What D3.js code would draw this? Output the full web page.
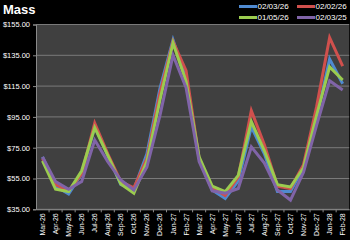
<!DOCTYPE html>
<html><head><meta charset="utf-8">
<script src="https://cdn.jsdelivr.net/npm/d3@7"></script>
<style>
html,body{margin:0;padding:0;background:#000;}
svg{display:block;}
text{font-family:"Liberation Sans",Arial,sans-serif;}
</style></head>
<body>
<svg id="c" width="350" height="240"></svg>
<script>
const months = ["Mar-26","Apr-26","May-26","Jun-26","Jul-26","Aug-26","Sep-26","Oct-26","Nov-26","Dec-26","Jan-27","Feb-27","Mar-27","Apr-27","May-27","Jun-27","Jul-27","Aug-27","Sep-27","Oct-27","Nov-27","Dec-27","Jan-28","Feb-28"];
const seriesNames = ["02/03/26","02/02/26","01/05/26","02/03/25"];
const s020326 = [69,50,45,58,88.5,70,51,48,71,113.5,145,120,68,47.5,42,53.5,88.5,71,46.5,46.5,62,94,132.5,116.5];
const s020226 = [68,51,47,58,91,71,53,49,68,110.5,144,125,68,49,44,56,99,77,50,48.5,64,101.5,146.5,128];
const s010526 = [66.5,48,46.5,60,88,70,51.5,45.5,66,106,143,118,69,50,46.5,57,92,73,51,49.5,62,96,127.5,119];
const s020325 = [69,53,48,53,80,66,54,47.5,62.5,96,135,114,66,47,45.5,48.5,75.5,65,47.5,41,59,89.5,118.5,112.5];
const yTicks = [35,55,75,95,115,135,155];
const colors = ["#4f8ad0","#d0504d","#9bcc4f","#8064a8"];
const allSeries = [s020326,s020226,s010526,s020325];

const svg = d3.select("#c");
const x = d3.scaleBand().domain(months).range([36,349.2]).padding(0);
const y = d3.scaleLinear().domain([35,155]).range([209.3,24.5]);

svg.append("rect").attr("x",36).attr("y",y(155)).attr("width",349.2-36).attr("height",y(35)-y(155)).attr("fill","#404040");

// gridlines
svg.append("g").selectAll("line").data(yTicks).join("line")
  .attr("x1",36).attr("x2",349.2).attr("y1",d=>y(d)).attr("y2",d=>y(d))
  .attr("stroke","#7a7a7a").attr("stroke-width",1);

// y axis
const ya = svg.append("g").attr("transform","translate(36,0)")
  .call(d3.axisLeft(y).tickValues(yTicks).tickSize(3).tickPadding(3).tickFormat(d=>"$"+d3.format(".2f")(d)));
ya.select(".domain").attr("stroke","#8a8a8a");
ya.selectAll(".tick line").attr("stroke","#8a8a8a");
ya.selectAll("text").attr("fill","#fff").attr("font-size","7.5px").attr("font-family","Liberation Sans, Arial, sans-serif");

// x axis
const xa = svg.append("g").attr("transform",`translate(0,${y(35)})`)
  .call(d3.axisBottom(x).tickSize(0).tickPadding(0));
xa.select(".domain").attr("stroke","#8a8a8a");
xa.selectAll("text").attr("fill","#fff").attr("font-size","7px").attr("font-family","Liberation Sans, Arial, sans-serif")
  .attr("text-anchor","end").attr("dy",null).attr("transform","translate(2.5,4) rotate(-90)");
svg.append("g").selectAll("line").data(months.slice(1)).join("line")
  .attr("x1",d=>x(d)).attr("x2",d=>x(d)).attr("y1",y(35)).attr("y2",y(35)+3)
  .attr("stroke","#8a8a8a");

// lines
const line = d3.line().x((d,i)=>x(months[i])+x.bandwidth()/2).y(d=>y(d));
allSeries.forEach((s,k)=>{
  svg.append("path").datum(s).attr("d",line).attr("fill","none")
    .attr("stroke",colors[k]).attr("stroke-width",3).attr("stroke-linejoin","miter").attr("stroke-linecap","butt");
});

// title
svg.append("text").attr("x",3).attr("y",14).attr("fill","#fff").attr("font-size","13px").attr("font-weight","bold").text("Mass");

// legend
const legPos = [[239,6.5],[297,6.5],[239,17.5],[297,17.5]];
seriesNames.forEach((n,k)=>{
  const [lx,ly] = legPos[k];
  svg.append("line").attr("x1",lx).attr("x2",lx+18).attr("y1",ly).attr("y2",ly).attr("stroke",colors[k]).attr("stroke-width",3);
  svg.append("text").attr("x",lx+18.5).attr("y",ly+2.8).attr("fill","#fff").attr("font-size","8px").text(n);
});
</script>
</body></html>
